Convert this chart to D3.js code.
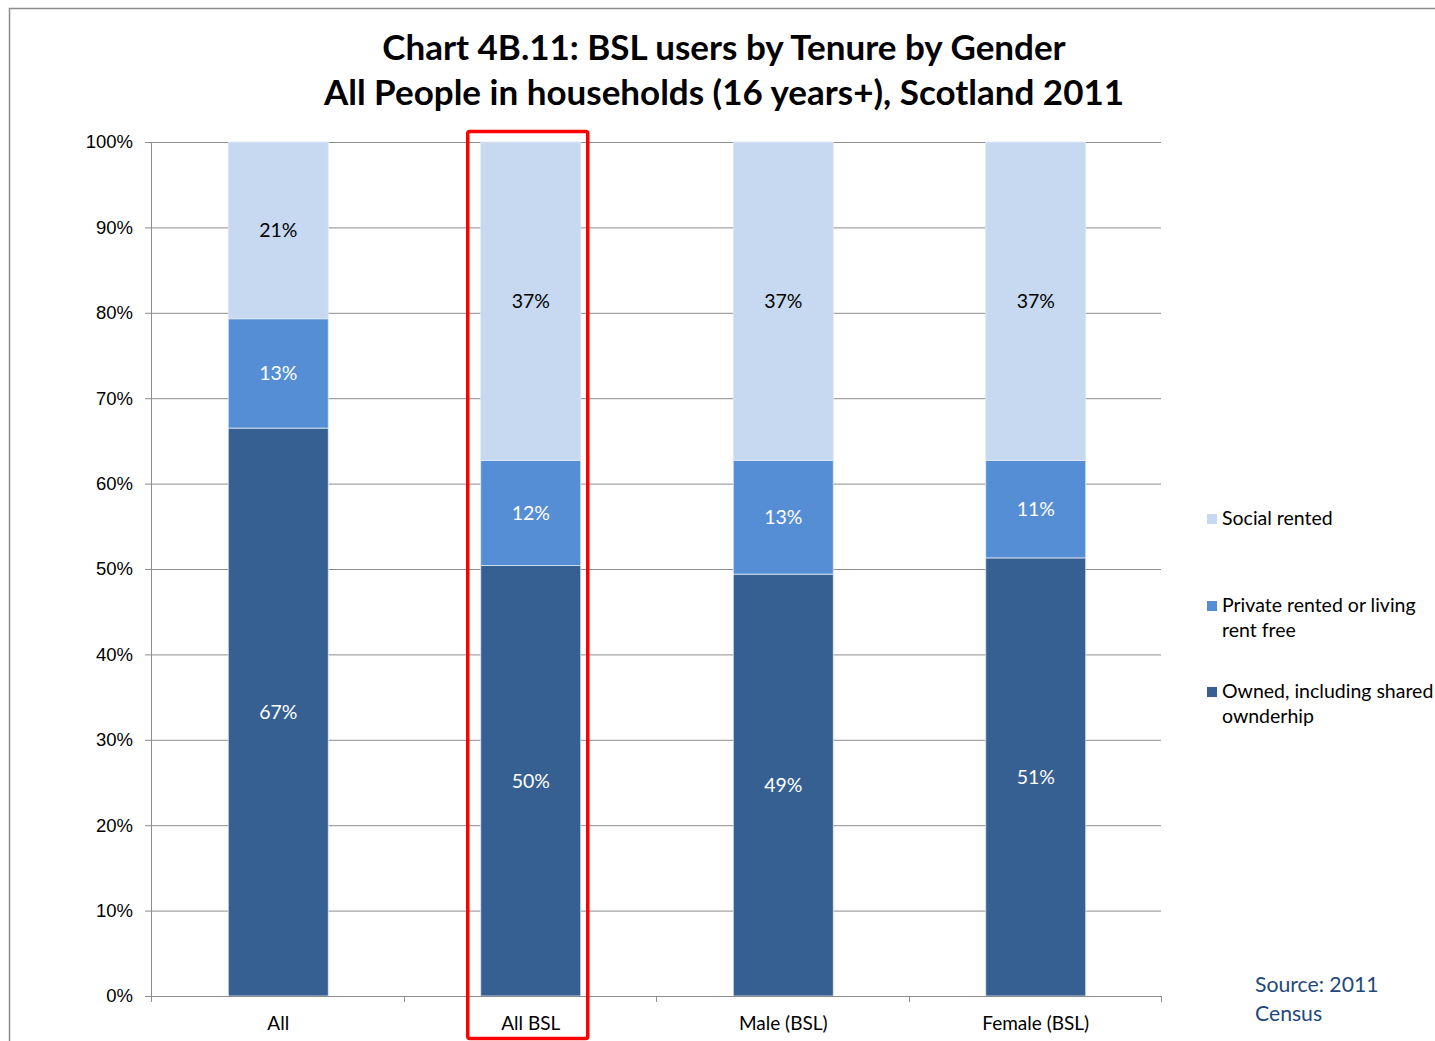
<!DOCTYPE html>
<html>
<head>
<meta charset="utf-8">
<script src="https://cdn.jsdelivr.net/npm/d3@7"></script>
<style>
  html, body { margin: 0; padding: 0; background: #fff; }
  svg { display: block; }
</style>
</head>
<body>
<svg id="chart" width="1435" height="1041"></svg>
<script>
// Tenure shares (%) for each group, BSL users in households, Scotland 2011
const categories = ["All", "All BSL", "Male (BSL)", "Female (BSL)"];
const owned      = [66.5, 50.4, 49.4, 51.3];
const privRented = [12.8, 12.3, 13.3, 11.4];
const social     = [20.7, 37.3, 37.3, 37.3];
const seriesNames = ["Owned, including shared ownderhip", "Private rented or living rent free", "Social rented"];
const yTicks = [0, 10, 20, 30, 40, 50, 60, 70, 80, 90, 100];

const colors = ["#376092", "#558ED5", "#C6D9F1"];
const labelColors = ["#ffffff", "#ffffff", "#000000"];
const bodyFont = "Lato, 'Open Sans', sans-serif";
const axisFont = "'Liberation Sans', Arial, sans-serif";

const svg = d3.select("#chart");

// outer chart frame
svg.append("path")
  .attr("d", "M9.5,1041 V8.5 H1435")
  .attr("fill", "none").attr("stroke", "#8c8c8c").attr("stroke-width", 1.5);

// title
const title = svg.append("text")
  .attr("text-anchor", "middle")
  .attr("font-family", bodyFont).attr("font-weight", "bold")
  .attr("font-size", 35).attr("fill", "#000");
title.append("tspan").attr("x", 724).attr("y", 60).text("Chart 4B.11: BSL users by Tenure by Gender");
title.append("tspan").attr("x", 724).attr("y", 105).text("All People in households (16 years+), Scotland 2011");

const plot = { left: 151, right: 1161, top: 142, bottom: 996 };

const x = d3.scaleBand().domain(categories)
  .range([plot.left, plot.right]).paddingInner(0.604).paddingOuter(0.302);
const y = d3.scaleLinear().domain([0, 100]).range([plot.bottom, plot.top]);

// gridlines + y axis
const yAxis = d3.axisLeft(y).tickValues(yTicks).tickFormat(d => d + "%")
  .tickSize(6).tickPadding(12);
const gy = svg.append("g").attr("transform", `translate(${plot.left},0)`).call(yAxis);
gy.select(".domain").attr("stroke", "#8c8c8c").attr("d", `M0.5,${plot.top}V${plot.bottom}`);
gy.selectAll(".tick line").attr("stroke", "#8c8c8c").attr("x1", -6).attr("x2", plot.right - plot.left);
gy.selectAll(".tick text").attr("font-family", axisFont).attr("font-size", 18.5).attr("fill", "#000");

// stacked bars
const rows = categories.map((c, i) => ({ cat: c, s0: owned[i], s1: privRented[i], s2: social[i] }));
const stack = d3.stack().keys(["s0", "s1", "s2"]);
const layers = stack(rows);

const gBars = svg.append("g").attr("transform", "translate(1,0)");
layers.forEach((layer, li) => {
  gBars.selectAll(null).data(layer).enter().append("rect")
    .attr("x", d => x(d.data.cat))
    .attr("width", x.bandwidth())
    .attr("y", d => y(d[1]))
    .attr("height", d => y(d[0]) - y(d[1]))
    .attr("fill", colors[li])
    .attr("stroke", "#dfe8f4").attr("stroke-width", 0.8);
  gBars.selectAll(null).data(layer).enter().append("text")
    .attr("x", d => x(d.data.cat) + x.bandwidth() / 2)
    .attr("y", d => (y(d[0]) + y(d[1])) / 2)
    .attr("dy", "0.35em")
    .attr("text-anchor", "middle")
    .attr("font-family", bodyFont).attr("font-size", 19.5)
    .attr("fill", labelColors[li])
    .text(d => Math.round(d[1] - d[0]) + "%");
});

// x axis
const gx = svg.append("g");
gx.append("line").attr("x1", plot.left - 3).attr("x2", plot.right)
  .attr("y1", plot.bottom + 0.5).attr("y2", plot.bottom + 0.5).attr("stroke", "#8c8c8c");
const step = x.step();
d3.range(categories.length + 1).forEach(i => {
  const xx = Math.round(plot.left + i * step) + 0.5;
  gx.append("line").attr("x1", xx).attr("x2", xx)
    .attr("y1", plot.bottom).attr("y2", plot.bottom + 6).attr("stroke", "#8c8c8c");
});
gx.selectAll(null).data(categories).enter().append("text")
  .attr("x", d => x(d) + x.bandwidth() / 2 + 1)
  .attr("y", plot.bottom + 34)
  .attr("text-anchor", "middle")
  .attr("font-family", bodyFont).attr("font-size", 19).attr("fill", "#000")
  .text(d => d);

// highlight frame around the All BSL column
const hx = x("All BSL");
svg.append("rect")
  .attr("x", hx - 12).attr("y", 131.5)
  .attr("width", x.bandwidth() + 20).attr("height", 907)
  .attr("rx", 2)
  .attr("fill", "none").attr("stroke", "#ff0000").attr("stroke-width", 3.5);

// legend
const legendItems = [
  { color: colors[2], lines: ["Social rented"], y: 519 },
  { color: colors[1], lines: ["Private rented or living", "rent free"], y: 606 },
  { color: colors[0], lines: ["Owned, including shared", "ownderhip"], y: 692 }
];
const gl = svg.append("g");
legendItems.forEach(it => {
  gl.append("rect").attr("x", 1207).attr("y", it.y - 5).attr("width", 10).attr("height", 10).attr("fill", it.color);
  const t = gl.append("text").attr("font-family", bodyFont).attr("font-size", 19.5).attr("fill", "#000");
  it.lines.forEach((ln, k) => {
    t.append("tspan").attr("x", 1222).attr("y", it.y + 6 + k * 25).text(ln);
  });
});

// source note
const src = svg.append("text").attr("font-family", bodyFont).attr("font-size", 21.2).attr("fill", "#1F497D");
src.append("tspan").attr("x", 1255).attr("y", 992).text("Source: 2011");
src.append("tspan").attr("x", 1255).attr("y", 1021).text("Census");
</script>
</body>
</html>
